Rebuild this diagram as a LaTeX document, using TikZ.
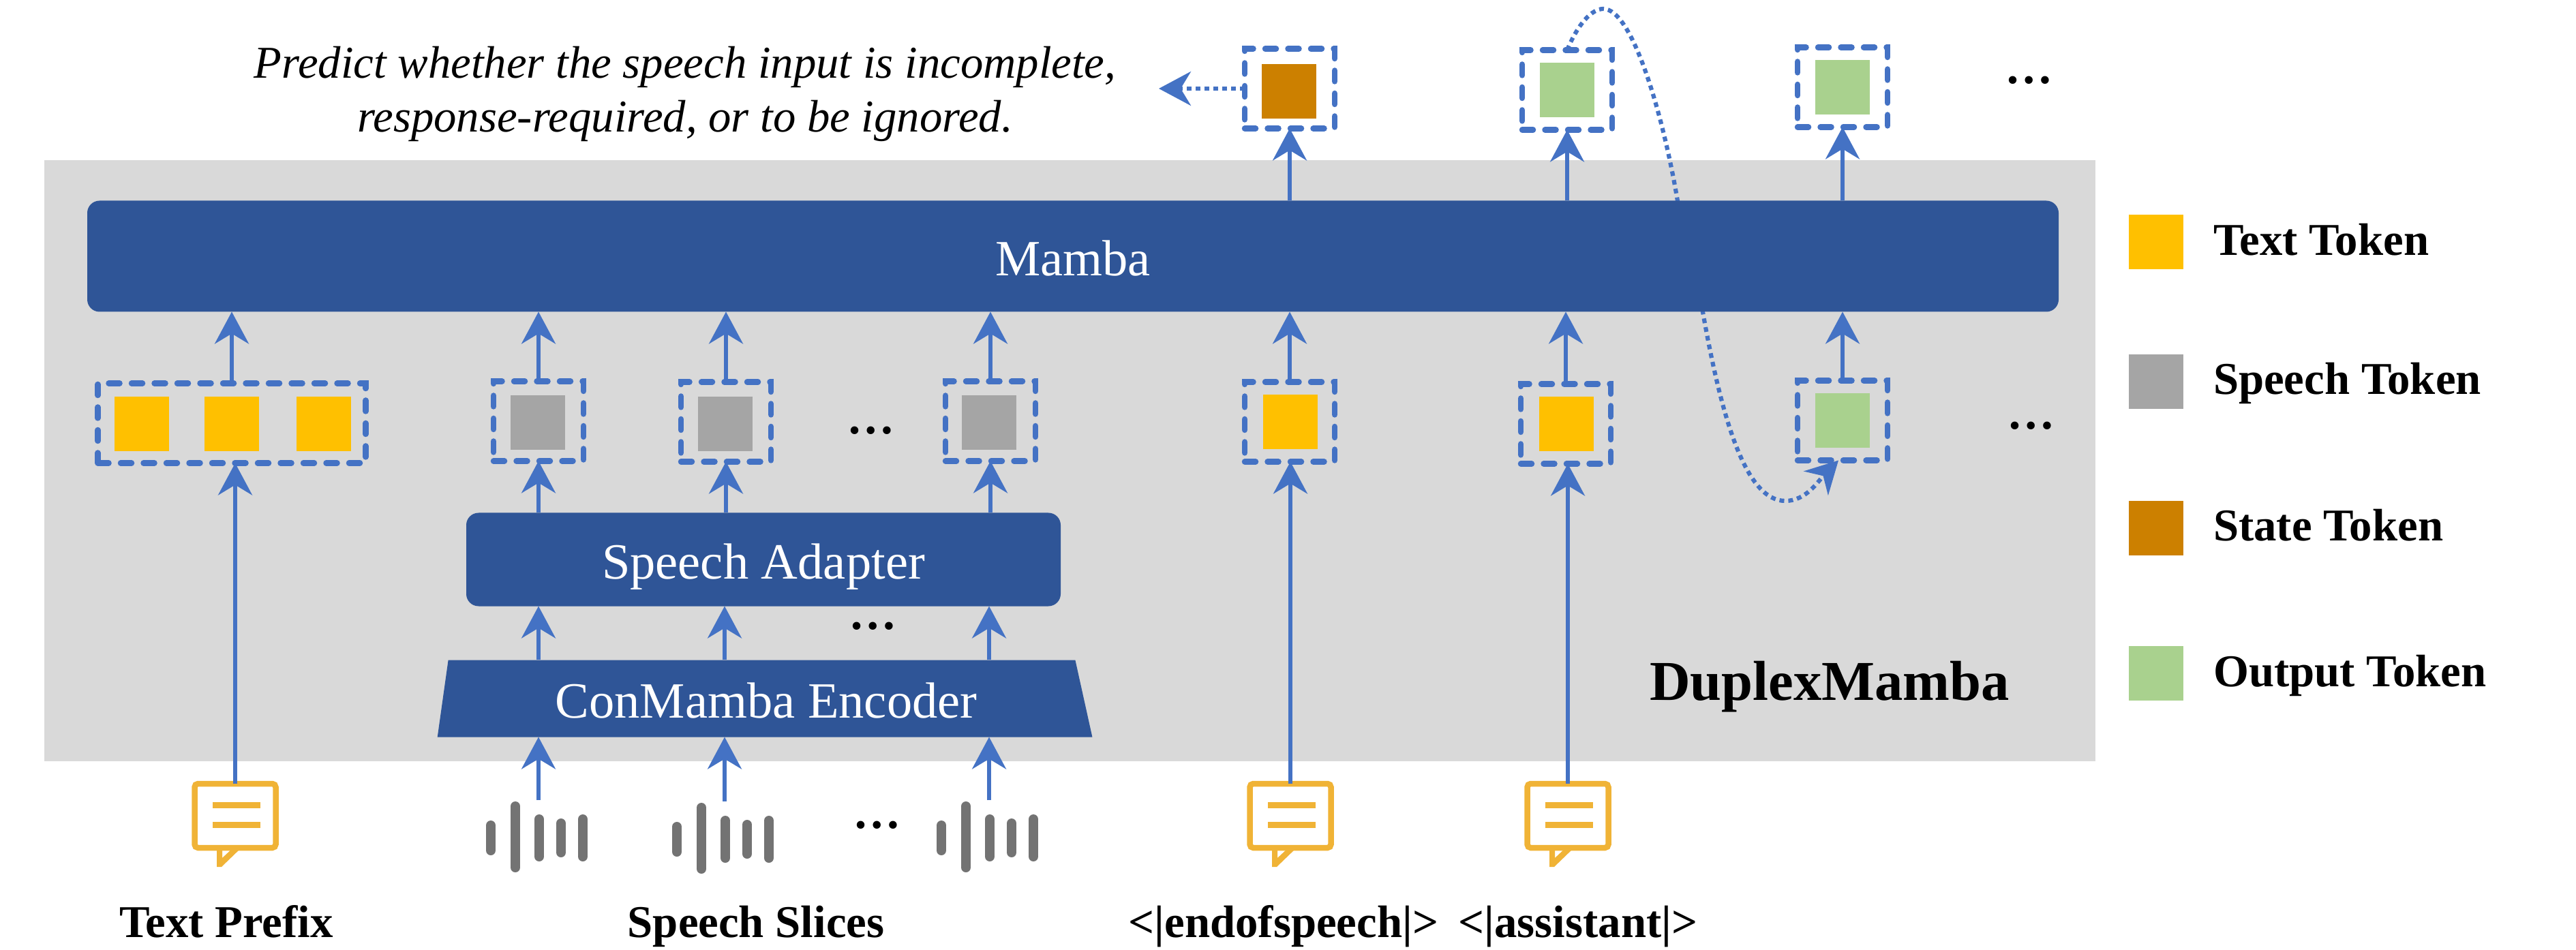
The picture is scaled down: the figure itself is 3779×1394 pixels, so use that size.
\documentclass[tikz,border=0pt]{standalone}
\usepackage{fontspec}
\setmainfont{Liberation Serif}
\usetikzlibrary{arrows.meta,shapes.geometric}
\definecolor{bandgray}{HTML}{D9D9D9}
\definecolor{blockblue}{HTML}{2F5597}
\definecolor{flowblue}{HTML}{4472C4}
\definecolor{texttok}{HTML}{FFC000}
\definecolor{speechtok}{HTML}{A5A5A5}
\definecolor{statetok}{HTML}{CC8000}
\definecolor{outputtok}{HTML}{A9D18E}
\definecolor{bubbleyellow}{HTML}{F0B336}
\definecolor{wavegray}{HTML}{737373}
\begin{document}
\begin{tikzpicture}[x=0.1mm,y=0.1mm]
    \tikzstyle{every node}+=[inner sep=0pt,outer sep=0pt]
    \tikzstyle{token}=[minimum size=8mm]
    \tikzstyle{tokbox}=[draw=flowblue,line width=.85mm,line cap=round,dash pattern=on 1.6mm off 1.75mm,minimum width=13.2mm,minimum height=11.7mm]
    \tikzstyle{flow}=[draw=flowblue,line width=.55mm,-{Stealth[length=4.7mm,width=5mm,inset=1.5mm]}]
    \tikzstyle{dotflow}=[flow,line width=.62mm,dash pattern=on .7mm off .6mm]
    \tikzstyle{block}=[fill=blockblue,text=white,font=\fontsize{21.2}{25}\selectfont,text height=17.8pt,text depth=1.8pt]
    \tikzstyle{boldlabel}=[font=\fontsize{19}{23}\selectfont\bfseries,anchor=base]
    \tikzstyle{moredots}=[font=\fontsize{20}{24}\selectfont\bfseries,anchor=base]
    \useasboundingbox (0,0) rectangle (3779,-1394);
    \fill [bandgray] (65,-235) rectangle (3074,-1116.5);
    \node [tokbox] (statebox) at (1892,-130) {};
    \node [tokbox] (outbox1) at (2299,-132) {};
    \node [tokbox] (outbox2) at (2703,-128) {};
    \node [tokbox,minimum width=39.3mm] (prefixbox) at (340,-621) {};
    \node [tokbox] (speechbox1) at (790,-618) {};
    \node [tokbox] (speechbox2) at (1065,-619) {};
    \node [tokbox] (speechbox3) at (1453,-618) {};
    \node [tokbox] (endbox) at (1892,-619) {};
    \node [tokbox] (asstbox) at (2297,-622) {};
    \node [tokbox] (loopbox) at (2703,-617) {};
    \node [token,fill=statetok] (statetoken) at (1891,-134) {};
    \node [token,fill=outputtok] (outtoken1) at (2299,-132) {};
    \node [token,fill=outputtok] (outtoken2) at (2703,-128) {};
    \node [token,fill=texttok] (prefixtoken1) at (208,-622) {};
    \node [token,fill=texttok] (prefixtoken2) at (340,-622) {};
    \node [token,fill=texttok] (prefixtoken3) at (475,-622) {};
    \node [token,fill=speechtok] (speechtoken1) at (789,-620) {};
    \node [token,fill=speechtok] (speechtoken2) at (1064,-622) {};
    \node [token,fill=speechtok] (speechtoken3) at (1451,-620) {};
    \node [token,fill=texttok] (endtoken) at (1893,-619) {};
    \node [token,fill=texttok] (assttoken) at (2298,-622) {};
    \node [token,fill=outputtok] (looptoken) at (2703,-617) {};
    \draw [dotflow] (outbox1.north) .. controls (2315,-35) and (2335,-13) .. (2352,-13) .. controls (2395,-13) and (2440,-170) .. (2461,-295) .. controls (2472,-350) and (2485,-400) .. (2498,-458) .. controls (2525,-610) and (2560,-735) .. (2619,-735) .. controls (2650,-735) and (2668,-705) .. ([xshift=-.6mm]loopbox.south);
    \node [block,rounded corners=1.8mm,minimum width=289.2mm,minimum height=16.3mm] (mamba) at (1574,-376) {Mamba};
    \node [block,rounded corners=1.8mm,minimum width=87.2mm,minimum height=13.7mm] (adapter) at (1120,-821) {Speech Adapter};
    \node [block,shape=trapezium,trapezium left angle=81,trapezium right angle=76,trapezium stretches=true,minimum width=96.1mm,minimum height=11.3mm] (encoder) at (1117.5,-1025) {\hspace{1.3mm}ConMamba Encoder};
    \foreach \name/\x in {bubprefix/345,bubend/1893,bubasst/2300} {
        \node [draw=bubbleyellow,line width=.85mm,rounded corners=.5mm,minimum width=11.9mm,minimum height=9.4mm] (\name) at (\x,-1197) {};
        \fill [bubbleyellow] (\x-33,-1177) rectangle (\x+37,-1186);
        \fill [bubbleyellow] (\x-33,-1206) rectangle (\x+37,-1215);
        \fill [bubbleyellow] (\x-27,-1244) -- (\x-27,-1272) -- (\x-20,-1272) -- (\x+9,-1244) -- (\x-3,-1244) -- (\x-19,-1259) -- (\x-19,-1244) -- cycle;
    }
    \foreach \name/\x/\y in {wave1/790/1174,wave2/1063/1176,wave3/1451/1174} {
        \coordinate (\name) at (\x,-\y);
        \foreach \dx/\ya/\yb in {-70/30/81,-34/2/106,1/21/90,33/27/84,65/21/90}
            \draw [wavegray,line width=1.4mm,line cap=round] (\x+\dx,-\y-\ya-7) -- (\x+\dx,-\y-\yb+7);
    }
    \foreach \from in {prefixbox,speechbox1,speechbox2,speechbox3,endbox,asstbox,loopbox}
        \draw [flow] (\from.north) -- (mamba.south -| \from);
    \foreach \to in {statebox,outbox1,outbox2}
        \draw [flow] (mamba.north -| \to) -- (\to.south);
    \draw [flow] (bubprefix.north) -- (bubprefix |- prefixbox.south);
    \draw [flow] (bubend.north) -- (bubend |- endbox.south);
    \draw [flow] (bubasst.north) -- (bubasst |- asstbox.south);
    \foreach \wave/\slot in {wave1/speechbox1,wave2/speechbox2,wave3/speechbox3} {
        \draw [flow] (\wave) -- (\wave |- encoder.south);
        \draw [flow] (encoder.north -| \wave) -- (adapter.south -| \wave);
        \draw [flow] (adapter.north -| \slot) -- (\slot.south);
    }
    \coordinate (stateout) at (1700,-130);
    \draw [dotflow,line width=.55mm] (statebox.west) -- (stateout);
    \node [align=center,font=\fontsize{19}{22.7}\selectfont\itshape] (predict) at (1005,-138) {Predict whether the speech input is incomplete,\\response-required, or to be ignored.};
    \node [boldlabel,font=\fontsize{23.5}{28}\selectfont\bfseries] (duplex) at (2684,-1027) {DuplexMamba};
    \node [boldlabel] (prefixlabel) at (332,-1375) {Text Prefix};
    \node [boldlabel] (sliceslabel) at (1109,-1375) {Speech Slices};
    \node [boldlabel] (endlabel) at (1883,-1375) {<|endofspeech|>};
    \node [boldlabel] (asstlabel) at (2315,-1375) {<|assistant|>};
    \node [moredots] (dots1) at (1278,-637) {…};
    \node [moredots] (dots2) at (1281,-924) {…};
    \node [moredots] (dots3) at (1287,-1215) {…};
    \node [moredots] (dots4) at (2977,-123) {…};
    \node [moredots] (dots5) at (2980,-630) {…};
    \foreach \name/\col/\y/\yb/\lab in {legtext/texttok/355/375/Text Token,legspeech/speechtok/560/579/Speech Token,legstate/statetok/775/794/State Token,legoutput/outputtok/988/1007/Output Token} {
        \node [token,fill=\col] (\name) at (3163,-\y) {};
        \node [boldlabel,anchor=base west] (\name lab) at (3247,-\yb) {\lab};
    }
\end{tikzpicture}
\end{document}
